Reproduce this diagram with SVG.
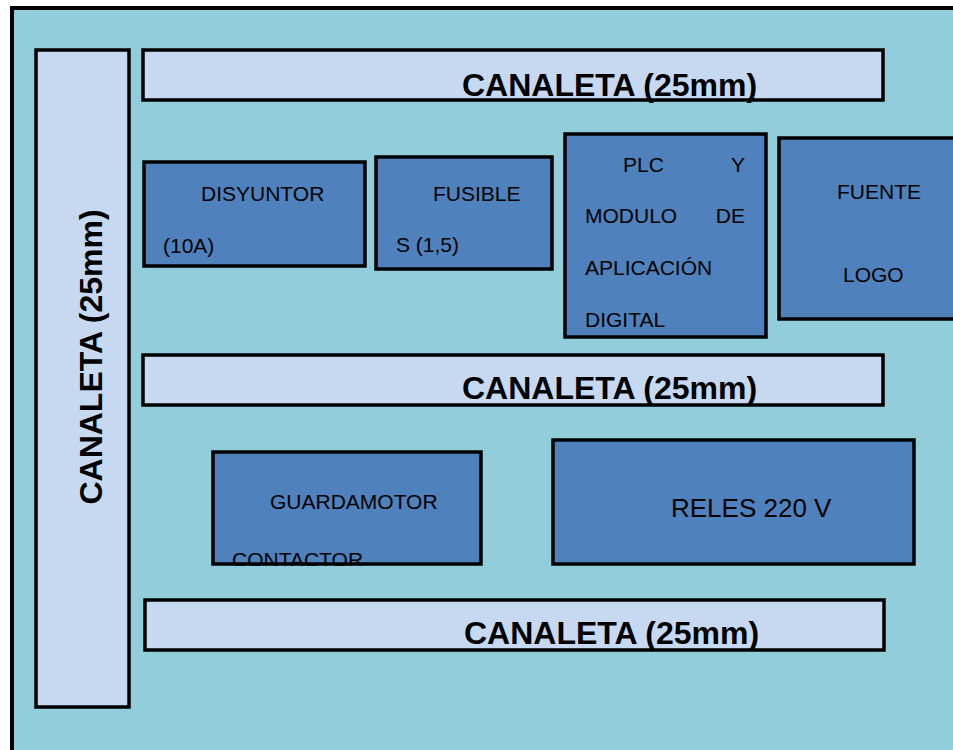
<svg xmlns="http://www.w3.org/2000/svg" width="953" height="750" viewBox="0 0 953 750">
<defs>
<style>
.can{fill:#C6D9F0;stroke:#000;stroke-width:3.5}
.blk{fill:#4F81BD;stroke:#000;stroke-width:3.5}
.ct{font-family:"Liberation Sans",Arial,sans-serif;font-weight:bold;font-size:32px;fill:#000}
.t{font-family:"Liberation Sans",Arial,sans-serif;font-size:21px;fill:#000}
.tb{font-family:"Liberation Sans",Arial,sans-serif;font-size:26px;fill:#000}
</style>
<clipPath id="gclip"><rect x="212" y="451" width="270" height="115"/></clipPath>
</defs>
<rect x="0" y="0" width="953" height="750" fill="#fff"/>
<rect id="frame" x="12" y="8" width="1000" height="800" fill="#92CDDC" stroke="#000" stroke-width="4"/>
<g id="connectors"></g>
<g id="canaleta-v">
<rect class="can" x="36" y="50" width="93" height="657"/>
<text class="ct" transform="translate(102,357) rotate(-90)" text-anchor="middle">CANALETA (25mm)</text>
</g>
<g id="canaleta-top">
<rect class="can" x="143" y="50" width="740" height="50"/>
<text class="ct" x="462" y="96">CANALETA (25mm)</text>
</g>
<g id="canaleta-mid">
<rect class="can" x="143" y="355" width="740" height="50"/>
<text class="ct" x="462" y="399">CANALETA (25mm)</text>
</g>
<g id="canaleta-bot">
<rect class="can" x="145" y="600" width="739" height="50"/>
<text class="ct" x="464" y="644">CANALETA (25mm)</text>
</g>
<g id="disyuntor">
<rect class="blk" x="144" y="162" width="221" height="104"/>
<text class="t" x="201" y="201">DISYUNTOR</text>
<text class="t" x="163" y="253">(10A)</text>
</g>
<g id="fusibles">
<rect class="blk" x="376" y="157" width="176" height="112"/>
<text class="t" x="433" y="201">FUSIBLE</text>
<text class="t" x="396" y="252">S (1,5)</text>
</g>
<g id="plc">
<rect class="blk" x="565" y="134" width="201" height="203"/>
<text class="t" x="623" y="172">PLC</text>
<text class="t" x="745" y="172" text-anchor="end">Y</text>
<text class="t" x="585" y="223">MODULO</text>
<text class="t" x="745" y="223" text-anchor="end">DE</text>
<text class="t" x="585" y="275">APLICACIÓN</text>
<text class="t" x="585" y="327">DIGITAL</text>
</g>
<g id="fuente">
<rect class="blk" x="779" y="138" width="200" height="181"/>
<text class="t" x="837" y="199">FUENTE</text>
<text class="t" x="843" y="282">LOGO</text>
</g>
<g id="guardamotor">
<rect x="213" y="452" width="268" height="112" fill="#4F81BD"/>
<text class="t" x="270" y="509">GUARDAMOTOR</text>
<text class="t" x="232" y="567" clip-path="url(#gclip)">CONTACTOR</text>
<rect x="213" y="452" width="268" height="112" fill="none" stroke="#000" stroke-width="3.5"/>
</g>
<g id="reles">
<rect class="blk" x="553" y="440" width="361" height="124"/>
<text class="tb" x="671" y="517">RELES 220 V</text>
</g>
</svg>
